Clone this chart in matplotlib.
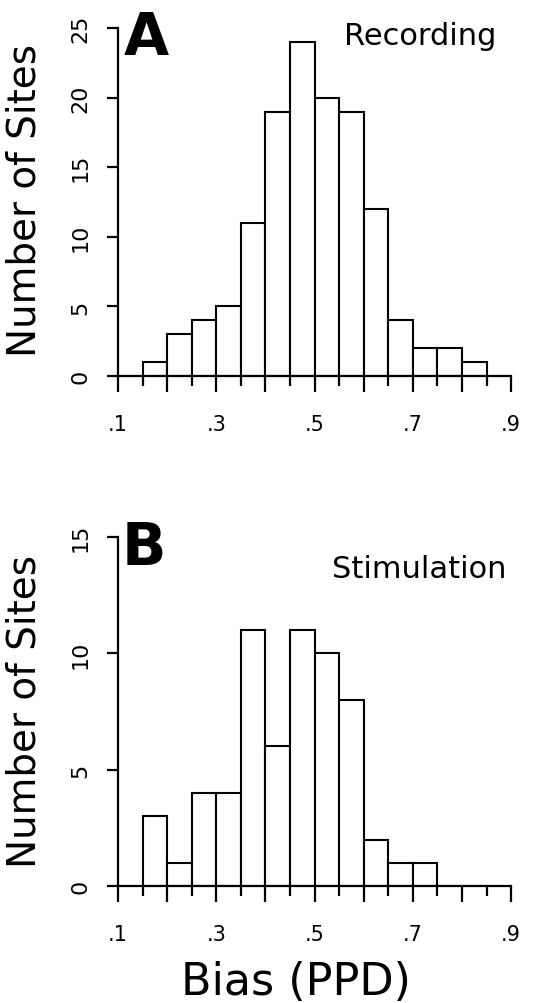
import matplotlib
matplotlib.use("Agg")
import matplotlib.pyplot as plt
import numpy as np

# bin edges (left) and counts
bin_left = [0.15, 0.20, 0.25, 0.30, 0.35, 0.40, 0.45, 0.50, 0.55, 0.60, 0.65, 0.70, 0.75, 0.80]
rec_counts = [1, 3, 4, 5, 11, 19, 24, 20, 19, 12, 4, 2, 2, 1]
stim_counts = [3, 1, 4, 4, 11, 6, 11, 10, 8, 2, 1, 1, 0, 0]
bin_width = 0.05

xtick_major = [0.1, 0.2, 0.3, 0.4, 0.5, 0.6, 0.7, 0.8, 0.9]
xtick_labels = [".1", "", ".3", "", ".5", "", ".7", "", ".9"]
xtick_minor = [0.15, 0.25, 0.35, 0.45, 0.55, 0.65, 0.75, 0.85]

plt.rcParams["font.family"] = ["DejaVu Sans"]

fig = plt.figure(figsize=(5.49, 10.04), dpi=100)
axA = fig.add_axes([0.215, 0.6245, 0.716, 0.3466])
axB = fig.add_axes([0.215, 0.1165, 0.716, 0.3476])


def style(ax, counts, ymax):
    ax.bar(bin_left, counts, width=bin_width, align="edge",
           facecolor="white", edgecolor="black", linewidth=1.5)
    ax.set_xlim(0.1, 0.9)
    ax.set_ylim(0, ymax)
    for s in ["top", "right"]:
        ax.spines[s].set_visible(False)
    for s in ["left", "bottom"]:
        ax.spines[s].set_linewidth(1.6)
    ax.set_xticks(xtick_minor, minor=True)
    ax.set_xticks(xtick_major)
    ax.set_xticklabels(xtick_labels, fontsize=15)
    ax.tick_params(axis="x", which="major", direction="out", length=11.5, width=1.6, pad=16)
    ax.tick_params(axis="x", which="minor", direction="out", length=7, width=1.6)
    yt = np.arange(0, ymax + 1, 5)
    ax.set_yticks(yt)
    ax.set_yticklabels([str(v) for v in yt], fontsize=16, rotation=90, va="center")
    ax.tick_params(axis="y", direction="out", length=8, width=1.6, pad=12)


style(axA, rec_counts, 25)
style(axB, stim_counts, 15)

fig.text(0.044, 0.80, "Number of Sites", rotation=90, fontsize=28, ha="center", va="center")
fig.text(0.044, 0.291, "Number of Sites", rotation=90, fontsize=28, ha="center", va="center")

fig.text(0.226, 0.990, "A", fontsize=42, fontweight="bold", ha="left", va="top")
fig.text(0.222, 0.482, "B", fontsize=42, fontweight="bold", ha="left", va="top")

fig.text(0.905, 0.955, "Recording", fontsize=22, ha="right", va="baseline")
fig.text(0.923, 0.424, "Stimulation", fontsize=22, ha="right", va="baseline")

fig.text(0.539, 0.009, "Bias (PPD)", fontsize=32, ha="center", va="baseline")

fig.savefig("out.png", dpi=100)
